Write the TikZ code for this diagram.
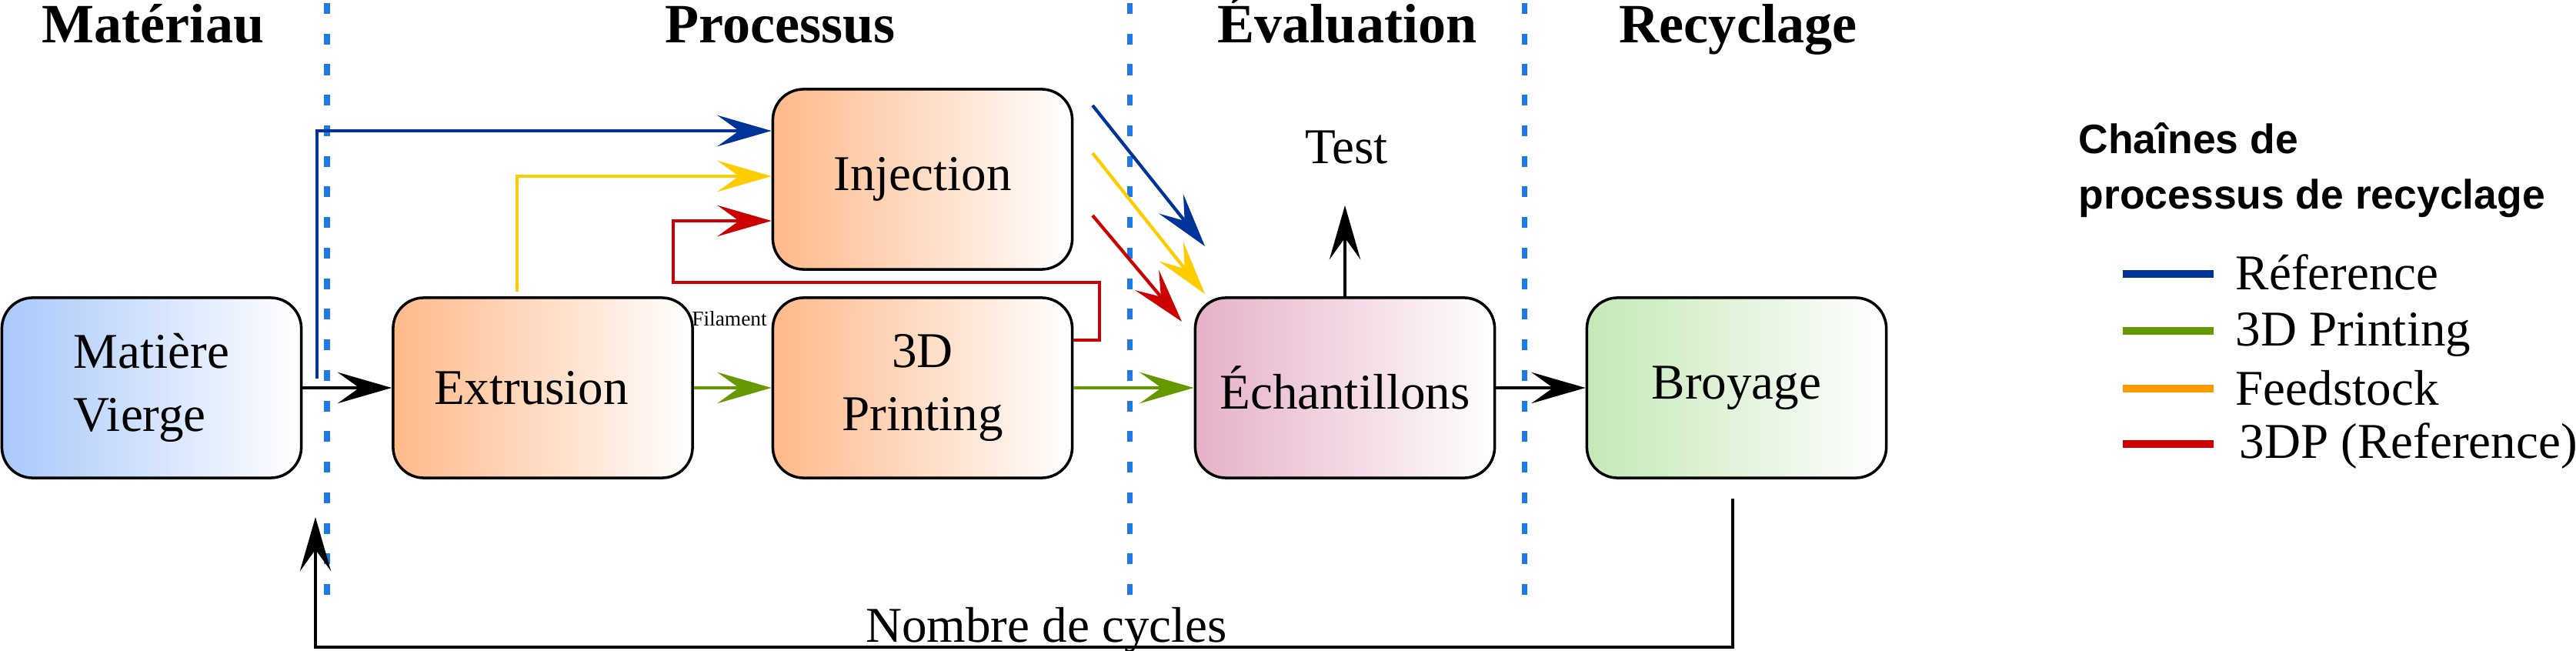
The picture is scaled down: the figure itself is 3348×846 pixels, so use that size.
\documentclass[tikz,border=0pt]{standalone}
\usepackage{fontspec}
\setmainfont{Liberation Serif}
\newfontfamily\legfont{Liberation Sans}
\usetikzlibrary{arrows.meta}
\definecolor{cblue}{HTML}{003399}
\definecolor{cgreen}{HTML}{669900}
\definecolor{cyellow}{HTML}{FFCC00}
\definecolor{corange}{HTML}{FF9900}
\definecolor{cred}{HTML}{CC0000}
\definecolor{cdash}{HTML}{1E78E6}
\definecolor{fblue}{HTML}{A9C8FA}
\definecolor{forange}{HTML}{FFB98A}
\definecolor{fpink}{HTML}{E6B0C9}
\definecolor{fgreen}{HTML}{C5E8B7}
\tikzset{
  boxfont/.style={font=\fontsize{18.5}{23.5}\selectfont},
  procbox/.style={draw=black, line width=1pt, rounded corners=0.4cm,
    minimum width=3.89cm, minimum height=2.34cm, inner sep=0pt,
    align=center, boxfont},
  titlefont/.style={font=\bfseries\fontsize{20.5}{24}\selectfont, anchor=base},
  arr/.style={line width=1.2pt, -{Stealth[length=20pt,width=11.5pt,inset=8pt]}},
  sep/.style={cdash, line width=2pt, dash pattern=on 4pt off 7.3pt},
  swatch/.style={line width=3pt},
  legtext/.style={anchor=base west, boxfont, inner sep=0pt},
  legtitle/.style={anchor=base west, inner sep=0pt, font=\legfont\bfseries\fontsize{15.2}{20}\selectfont},
}
\begin{document}
\begin{tikzpicture}[x=0.01cm,y=-0.01cm]
\useasboundingbox (0,0) rectangle (3348,846);

% separators
\draw[sep] (425,4) -- (425,775);
\draw[sep] (1468,4) -- (1468,775);
\draw[sep] (1981,4) -- (1981,775);

% titles
\node[titlefont] (tmat) at (199,56) {Matériau};
\node[titlefont] (tpro) at (1014,56) {Processus};
\node[titlefont] (teva) at (1751,56) {Évaluation};
\node[titlefont] (trec) at (2259,56) {Recyclage};

% boxes
\node[procbox, left color=fblue, right color=white, align=left] (mv) at (197,504) {Matière\\Vierge};
\node[procbox, left color=forange, right color=white] (ext) at (705.5,504) {Extrusion\hspace*{0.3cm}};
\node[procbox, left color=forange, right color=white] (inj) at (1199,233) {Injection};
\node[procbox, left color=forange, right color=white] (tdp) at (1199,504) {3D\\Printing};
\node[procbox, left color=fpink, right color=white] (ech) at (1748,504) {Échantillons};
\node[procbox, left color=fgreen, right color=white] (bro) at (2257,504) {Broyage};

% labels
\node[boxfont, anchor=base] (test) at (1750,213) {Test};
\node[font=\fontsize{7.8}{9}\selectfont, anchor=base, inner sep=0pt] (fil) at (948,424) {Filament};
\node[boxfont, anchor=base, inner sep=0pt] (ncy) at (1360,834) {Nombre de cycles};

% coordinates
\coordinate (bstart) at (412,492);
\coordinate (bcorner) at (412,170);
\coordinate (ystart) at (672,379);
\coordinate (ylev) at (0,229);
\coordinate (r1) at (1429,442);
\coordinate (r2) at (1429,367);
\coordinate (r3) at (875,367);
\coordinate (r4) at (875,287);
\coordinate (db1) at (1420,137);
\coordinate (db2) at (1566,320);
\coordinate (dy1) at (1420,199);
\coordinate (dy2) at (1566,382);
\coordinate (dr1) at (1420,280);
\coordinate (dr2) at (1536,418);
\coordinate (testtip) at (1748,267);
\coordinate (bs) at (2252,648);
\coordinate (b1) at (2252,841);
\coordinate (b2) at (410,841);
\coordinate (btip) at (410,672);

% connectors
\draw[arr, black] (mv.east) -- (ext.west);
\draw[arr, cblue] (bstart) -- (bcorner) -- (inj.west |- bcorner);
\draw[arr, cyellow] (ystart) |- (inj.west |- ylev);
\draw[arr, cred] (tdp.east |- r1) -- (r1) -- (r2) -- (r3) -- (r4) -- (inj.west |- r4);
\draw[arr, cgreen] (ext.east) -- (tdp.west);
\draw[arr, cgreen] (tdp.east) -- (ech.west);
\draw[arr, black] (ech.east) -- (bro.west);
\draw[arr, black] (ech.north) -- (testtip);
\draw[arr, cblue] (db1) -- (db2);
\draw[arr, cyellow] (dy1) -- (dy2);
\draw[arr, cred] (dr1) -- (dr2);
\draw[arr, black] (bs) -- (b1) -- (b2) -- (btip);

% legend
\node[legtitle] (leg1) at (2701,200) {Chaînes de};
\node[legtitle] (leg2) at (2701,272) {processus de recyclage};
\draw[swatch, cblue] (2759,356) -- (2877,356);
\draw[swatch, cgreen] (2759,430) -- (2877,430);
\draw[swatch, corange] (2759,505) -- (2877,505);
\draw[swatch, cred] (2759,577) -- (2877,577);
\node[legtext] (l1) at (2905,377) {Réference};
\node[legtext] (l2) at (2905,449) {3D Printing};
\node[legtext] (l3) at (2905,527) {Feedstock};
\node[legtext] (l4) at (2910,596) {3DP (Reference)};
\end{tikzpicture}
\end{document}
